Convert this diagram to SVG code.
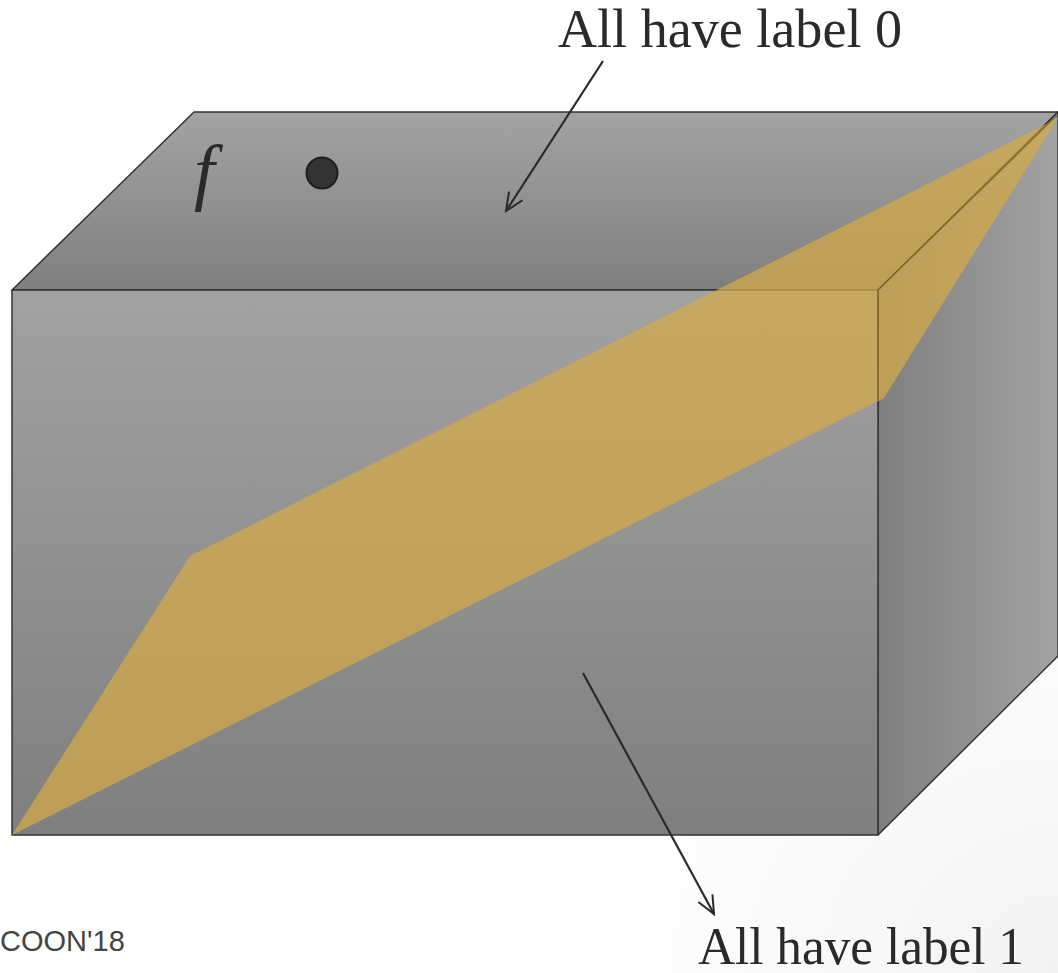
<svg xmlns="http://www.w3.org/2000/svg" width="1058" height="973" viewBox="0 0 1058 973">
<defs>
<linearGradient id="gTop" x1="0" y1="0" x2="0" y2="1"><stop offset="0" stop-color="#a3a3a3"/><stop offset="1" stop-color="#7f7f7f"/></linearGradient>
<linearGradient id="gFront" x1="0" y1="0" x2="0" y2="1"><stop offset="0" stop-color="#a2a2a2"/><stop offset="1" stop-color="#7f7f7f"/></linearGradient>
<linearGradient id="gRight" x1="0" y1="0" x2="1" y2="0"><stop offset="0" stop-color="#7f7f7f"/><stop offset="1" stop-color="#a3a3a3"/></linearGradient>
<radialGradient id="bgR" cx="1" cy="1" r="0.45"><stop offset="0" stop-color="#f3f3f3"/><stop offset="1" stop-color="#ffffff"/></radialGradient>
<marker id="arr" markerWidth="24" markerHeight="24" refX="20" refY="12" orient="auto" markerUnits="userSpaceOnUse"><path d="M2,4 L20,12 L2,20" fill="none" stroke="#2a2a2a" stroke-width="2"/></marker>
<style>
.edge{stroke:#333;stroke-width:1.5;stroke-linejoin:round}
.lbl{font-family:"Liberation Serif",serif;fill:#2a2a2a}
.conn{stroke:#2a2a2a;stroke-width:2.2;fill:none}
</style>
</defs>
<rect width="1058" height="973" fill="url(#bgR)"/>
<g id="box">
<polygon class="edge" points="12,290 194,112 1058,112 878,290" fill="url(#gTop)"/>
<polygon class="edge" points="878,290 1058,112 1058,656 878,835" fill="url(#gRight)"/>
<rect class="edge" x="12" y="290" width="866" height="545" fill="url(#gFront)"/>
</g>
<g id="plane">
<polygon points="12,835 190,556 1058,118 884,398" fill="#d6aa48" fill-opacity="0.72"/>
<line x1="878" y1="290" x2="1058" y2="114" stroke="#6e5a2a" stroke-width="1.5" opacity="0.8"/>
<line x1="878" y1="290" x2="878" y2="400" stroke="#6e5a2a" stroke-width="1.5" opacity="0.8"/>
</g>
<g id="f-node">
<text class="lbl" x="194" y="196" font-size="74" font-style="italic">f</text>
<circle cx="322" cy="173" r="15.5" fill="#333" stroke="#1e1e1e" stroke-width="2"/>
</g>
<g id="connectors">
<line class="conn" x1="603" y1="61" x2="506" y2="211" marker-end="url(#arr)"/>
<line class="conn" x1="583" y1="673" x2="714" y2="914" marker-end="url(#arr)"/>
</g>
<g id="label0"><text class="lbl" x="558" y="47" font-size="54" textLength="344" lengthAdjust="spacingAndGlyphs">All have label 0</text></g>
<g id="label1"><text class="lbl" x="698" y="964" font-size="52" textLength="326" lengthAdjust="spacingAndGlyphs">All have label 1</text></g>
<g id="footer"><text x="0" y="951" font-family="'Liberation Sans',Arial,sans-serif" font-size="29" fill="#444">COON'18</text></g>
</svg>
